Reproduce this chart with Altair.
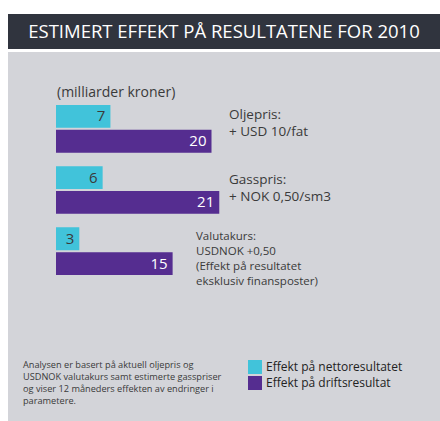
import altair as alt
import pandas as pd

TITLE = "ESTIMERT EFFEKT PÅ RESULTATENE FOR 2010"
UNIT = "(milliarder kroner)"
groups = ["Oljepris", "Gasspris", "Valutakurs"]
series = ["Effekt på nettoresultatet", "Effekt på driftsresultat"]
netto = [7, 6, 3]
drift = [20, 21, 15]
label_olje = ["Oljepris:", "+ USD 10/fat"]
label_gass = ["Gasspris:", "+ NOK 0,50/sm3"]
label_valuta = ["Valutakurs:", "USDNOK +0,50", "(Effekt på resultatet", "eksklusiv finansposter)"]
footnote = [
    "Analysen er basert på aktuell oljepris og",
    "USDNOK valutakurs samt estimerte gasspriser",
    "og viser 12 måneders effekten av endringer i",
    "parametere.",
]

rows = []
for g, n, d in zip(groups, netto, drift):
    rows.append({"group": g, "series": series[0], "value": n})
    rows.append({"group": g, "series": series[1], "value": d})
df = pd.DataFrame(rows)

FONT = "Open Sans"
CYAN = "#41c3da"
PURPLE = "#552d90"
PANEL = "#d3d4d9"
BARCOL = "#30343e"
TXT = "#3a3a3a"

one = pd.DataFrame({"k": [0]})

title_bar = alt.Chart(one).mark_rect(color=BARCOL).encode(
    x=alt.value(8), x2=alt.value(440), y=alt.value(14), y2=alt.value(49))
panel = alt.Chart(one).mark_rect(color=PANEL).encode(
    x=alt.value(8), x2=alt.value(440), y=alt.value(52), y2=alt.value(421))
title_txt = alt.Chart(one).mark_text(
    text=TITLE, font=FONT, fontSize=18.5, color="white", align="center", baseline="middle"
).encode(x=alt.value(224), y=alt.value(32))
unit_txt = alt.Chart(one).mark_text(
    text=UNIT, font=FONT, fontSize=14, color=TXT, align="left", baseline="middle"
).encode(x=alt.value(57), y=alt.value(93))

xs = alt.X("value:Q", scale=alt.Scale(domain=[0, 20], range=[56, 211.5], nice=False, zero=True),
           axis=None, stack=None)
ys = alt.Y("group:N", sort=groups,
           scale=alt.Scale(domain=groups, range=[105, 275], paddingInner=0.22, paddingOuter=0),
           axis=None)
yo = alt.YOffset("series:N", sort=series,
                 scale=alt.Scale(domain=series, paddingInner=0.08, paddingOuter=0))

bars = alt.Chart(df).mark_bar(opacity=1).encode(
    x=xs, y=ys, yOffset=yo,
    color=alt.Color("series:N", sort=series,
                    scale=alt.Scale(domain=series, range=[CYAN, PURPLE]),
                    legend=alt.Legend(title=None, orient="none", legendX=248, legendY=360,
                                      symbolType="square", symbolSize=196, symbolStrokeWidth=0,
                                      symbolOpacity=1,
                                      labelFont=FONT, labelFontSize=12, labelColor="#222222",
                                      labelOffset=4, rowPadding=2, padding=0)),
)

vals = alt.Chart(df).mark_text(font=FONT, fontSize=15, align="right", baseline="middle", dx=-5).encode(
    x=xs, y=ys, yOffset=yo,
    text=alt.Text("value:Q"),
    color=alt.condition(alt.datum.series == series[0], alt.value("#3a3a3a"), alt.value("white")),
)

def block(lines, x, y, lh, size):
    return alt.Chart(one).mark_text(
        text=lines, font=FONT, fontSize=size, color=TXT, align="left", baseline="middle",
        lineHeight=lh
    ).encode(x=alt.value(x), y=alt.value(y))

lab1 = block(label_olje, 229, 115, 17, 13.5)
lab2 = block(label_gass, 229, 180, 17, 13.5)
lab3 = block(label_valuta, 196, 236.5, 15, 11.5)
foot = block(footnote, 23, 364.5, 12.2, 9.2)

chart = alt.layer(
    title_bar, panel, title_txt, unit_txt, bars, vals, lab1, lab2, lab3, foot
).properties(
    width=440, height=421, autosize=alt.AutoSizeParams(type="none"), padding=0,
    background="white"
).configure_view(stroke=None)

chart.save("out.html", embed_options={"renderer": "svg", "actions": False})
